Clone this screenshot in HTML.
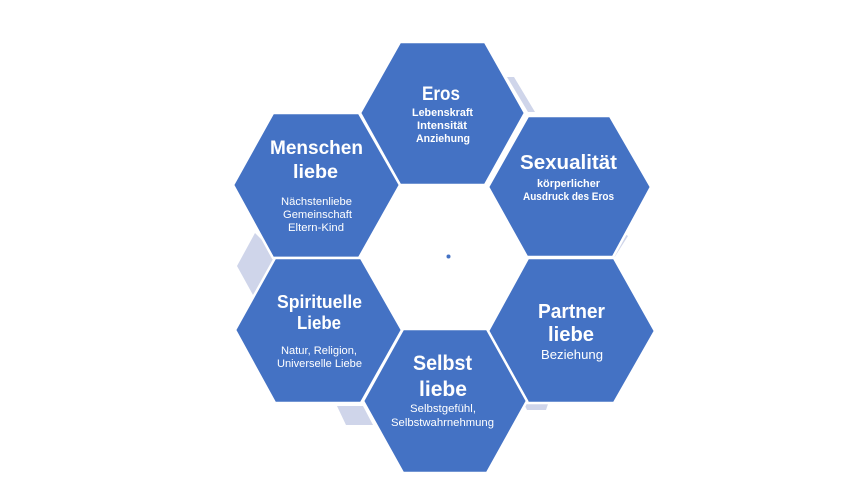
<!DOCTYPE html>
<html>
<head>
<meta charset="utf-8">
<style>
  html,body{margin:0;padding:0;background:#fff;}
  svg{display:block;}
  text{font-family:"Liberation Sans",sans-serif;fill:#fff;text-anchor:middle;}
  .t{font-weight:bold;}
  .b{font-weight:bold;font-size:11px;}
  .r{font-size:11px;}
</style>
</head>
<body>
<svg width="864" height="504" viewBox="0 0 864 504" xmlns="http://www.w3.org/2000/svg">
  <rect width="864" height="504" fill="#fff"/>
  <!-- shadow shapes -->
  <g fill="#cfd5ea">
    <polygon points="507,77 514,77 535,112 528,112"/>
    <polygon points="255,233 237,266 253,295 280,258"/>
    <polygon points="337,406 363,406 373,425 346,425"/>
    <polygon points="524,404 548,404 546,410 527,410"/>
    <polygon points="611,258 625,234 628,236 614,258"/>
  </g>
  <!-- hexagons -->
  <g fill="#4472c4" stroke="#fff" stroke-width="2.5" stroke-linejoin="miter">
    <polygon points="400,42 485,42 525,113 485,185 400,185 360,113"/>
    <polygon points="273,113 359,113 400,185 359,258 273,258 233,185"/>
    <polygon points="528,116 610,116 651,187 613,257 527,257 488,187"/>
    <polygon points="275,258 361,258 402,330 361,403 275,403 235,330"/>
    <polygon points="528,258 614,258 655,331 614,403 528,403 488,331"/>
    <polygon points="403,329 487,329 527,401 487,473 403,473 363,401"/>
  </g>
  <circle cx="448.5" cy="256.5" r="2" fill="#4472c4"/>

  <!-- Eros -->
  <text class="t" x="441" y="100" font-size="19" textLength="38" lengthAdjust="spacingAndGlyphs">Eros</text>
  <text class="b" x="442.5" y="116" textLength="61" lengthAdjust="spacingAndGlyphs">Lebenskraft</text>
  <text class="b" x="442" y="129" textLength="50" lengthAdjust="spacingAndGlyphs">Intensität</text>
  <text class="b" x="443" y="142" textLength="54" lengthAdjust="spacingAndGlyphs">Anziehung</text>

  <!-- Menschen liebe -->
  <text class="t" x="316.5" y="154" font-size="19" textLength="93" lengthAdjust="spacingAndGlyphs">Menschen</text>
  <text class="t" x="315.5" y="178" font-size="19" textLength="45" lengthAdjust="spacingAndGlyphs">liebe</text>
  <text class="r" x="316.5" y="205" textLength="71" lengthAdjust="spacingAndGlyphs">Nächstenliebe</text>
  <text class="r" x="317.5" y="218" textLength="69" lengthAdjust="spacingAndGlyphs">Gemeinschaft</text>
  <text class="r" x="316" y="231" textLength="56" lengthAdjust="spacingAndGlyphs">Eltern-Kind</text>

  <!-- Sexualität -->
  <text class="t" x="568.5" y="169" font-size="20" textLength="97" lengthAdjust="spacingAndGlyphs">Sexualität</text>
  <text class="b" x="568.5" y="187" textLength="63" lengthAdjust="spacingAndGlyphs">körperlicher</text>
  <text class="b" x="568.5" y="200" textLength="91" lengthAdjust="spacingAndGlyphs">Ausdruck des Eros</text>

  <!-- Spirituelle Liebe -->
  <text class="t" x="319.5" y="308" font-size="18" textLength="85" lengthAdjust="spacingAndGlyphs">Spirituelle</text>
  <text class="t" x="319" y="329" font-size="18" textLength="44" lengthAdjust="spacingAndGlyphs">Liebe</text>
  <text class="r" x="319" y="354" textLength="76" lengthAdjust="spacingAndGlyphs">Natur, Religion,</text>
  <text class="r" x="319.5" y="367" textLength="85" lengthAdjust="spacingAndGlyphs">Universelle Liebe</text>

  <!-- Selbst liebe -->
  <text class="t" x="442.5" y="370" font-size="21" textLength="59" lengthAdjust="spacingAndGlyphs">Selbst</text>
  <text class="t" x="443" y="396" font-size="21" textLength="48" lengthAdjust="spacingAndGlyphs">liebe</text>
  <text class="r" x="443" y="412" textLength="66" lengthAdjust="spacingAndGlyphs">Selbstgefühl,</text>
  <text class="r" x="442.5" y="426" textLength="103" lengthAdjust="spacingAndGlyphs">Selbstwahrnehmung</text>

  <!-- Partner liebe -->
  <text class="t" x="571.5" y="318" font-size="20" textLength="67" lengthAdjust="spacingAndGlyphs">Partner</text>
  <text class="t" x="571" y="341" font-size="20" textLength="46" lengthAdjust="spacingAndGlyphs">liebe</text>
  <text x="572" y="359" font-size="13" textLength="62" lengthAdjust="spacingAndGlyphs">Beziehung</text>
</svg>
</body>
</html>
